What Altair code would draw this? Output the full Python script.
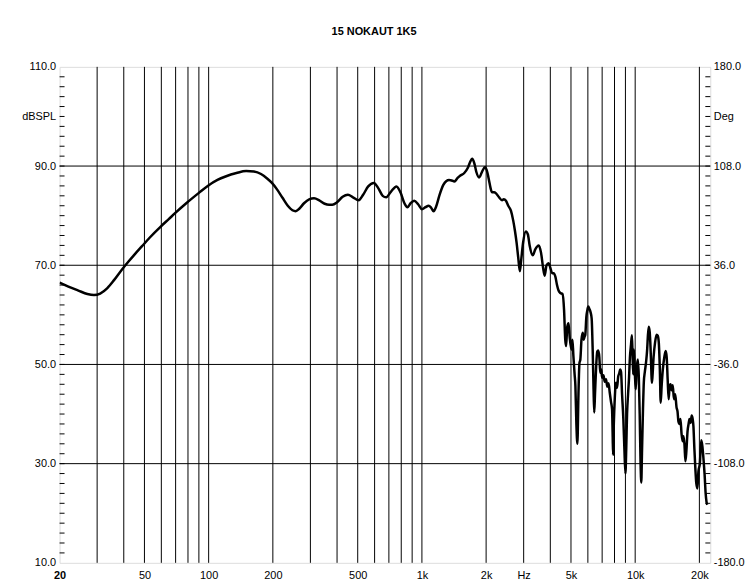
import altair as alt
import pandas as pd

TITLE = "15 NOKAUT 1K5"

freq = [20, 22, 24.5, 27, 29, 31, 33.5, 36, 39, 42, 45, 48.6, 53, 59.6, 65, 70, 79, 90, 99, 110,
        120, 135, 150, 163, 176, 188, 198, 210, 222, 235, 247, 256, 266, 280, 296, 312, 330, 350,
        367, 380, 400, 425, 450, 475, 505, 530, 560, 595, 625, 655, 680, 715, 760, 795, 830, 855,
        885, 920, 960, 1000, 1040, 1075, 1105, 1135, 1165, 1210, 1260, 1303, 1340, 1380, 1420,
        1470, 1515, 1580, 1640, 1690, 1722, 1760, 1800, 1855, 1920, 1978, 2030, 2066, 2100, 2132,
        2180, 2226, 2300, 2374, 2420, 2478, 2540, 2614, 2680, 2729, 2780, 2830, 2878, 2920, 2980,
        3070, 3140, 3200, 3308, 3400, 3528, 3620, 3700, 3764, 3840, 3926, 4000, 4080, 4144, 4230,
        4300, 4372, 4460, 4562, 4640, 4700, 4745, 4800, 4870, 4930, 5024, 5080, 5132, 5200, 5244,
        5300, 5358, 5420, 5480, 5532, 5600, 5680, 5730, 5790, 5836, 5900, 5970, 6026, 6100, 6180,
        6250, 6320, 6380, 6428, 6480, 6560, 6640, 6710, 6790, 6860, 6928, 7000, 7100, 7200, 7300,
        7400, 7500, 7600, 7700, 7790, 7840, 7878, 7940, 8020, 8120, 8224, 8320, 8420, 8500, 8584,
        8680, 8800, 8900, 9000, 9080, 9160, 9260, 9350, 9450, 9560, 9654, 9720, 9790, 9870, 9970,
        10060, 10150, 10296, 10400, 10500, 10600, 10680, 10760, 10880, 10980, 11098, 11250, 11380,
        11480, 11584, 11700, 11800, 11900, 11962, 12050, 12200, 12400, 12600, 12756, 12900, 13050,
        13172, 13300, 13480, 13700, 13900, 14050, 14200, 14352, 14500, 14650, 14820, 15000, 15200,
        15400, 15634, 15800, 15950, 16144, 16300, 16500, 16700, 16850, 17030, 17200, 17380, 17600,
        17800, 17970, 18200, 18400, 18600, 18756, 18950, 19150, 19350, 19576, 19800, 20100, 20400,
        20660, 20900, 21150, 21400, 21600, 21780]

spl = [66.5, 65.7, 64.9, 64.2, 64.0, 64.3, 65.4, 67.0, 69.0, 70.7, 72.2, 73.8, 75.6, 77.8, 79.3,
       80.6, 82.6, 84.6, 86.0, 87.2, 87.9, 88.6, 89.0, 88.9, 88.4, 87.5, 86.6, 85.2, 83.6, 82.0,
       81.1, 80.9, 81.4, 82.5, 83.3, 83.5, 83.1, 82.4, 82.2, 82.2, 82.7, 83.8, 84.2, 83.7, 83.1,
       84.2, 85.9, 86.6, 85.5, 84.0, 83.7, 84.8, 85.9, 84.6, 82.4, 81.7, 82.5, 83.0, 82.3, 81.3,
       81.7, 82.0, 81.6, 80.9, 81.8, 84.2, 86.2, 87.0, 87.2, 87.1, 86.9, 87.6, 88.1, 88.6, 89.6,
       91.0, 91.5, 90.6, 88.8, 87.7, 89.0, 89.8, 88.6, 87.0, 85.5, 84.7, 84.7, 84.5, 83.7, 83.1,
       83.3, 83.0, 82.0, 81.0, 79.0, 77.0, 74.5, 71.5, 68.8, 71.0, 74.5, 76.8, 76.2, 74.0, 72.0,
       73.2, 74.0, 72.5, 69.5, 67.9, 70.0, 70.4, 69.5, 68.4, 68.4, 67.6, 66.0, 64.9, 64.4, 64.2,
       61.0, 55.0, 53.7, 57.5, 58.3, 55.5, 53.0, 55.0, 51.7, 48.0, 45.7, 38.0, 34.0, 44.0, 50.3,
       51.0, 55.0, 56.4, 55.0, 55.6, 56.0, 59.5, 61.0, 61.7, 61.2, 60.5, 59.3, 53.0, 45.0, 40.3,
       44.0, 49.5, 52.6, 52.8, 51.5, 48.3, 49.0, 47.3, 47.8, 46.5, 47.0, 45.5, 46.2, 44.3, 42.5,
       41.0, 36.0, 31.8, 38.0, 43.0, 46.3, 45.3, 47.5, 48.2, 49.0, 48.5, 44.0, 39.0, 33.0, 28.0,
       33.0, 40.0, 44.0, 47.0, 51.5, 54.0, 55.9, 52.0, 48.0, 53.0, 48.0, 45.0, 49.0, 51.0, 47.5,
       40.0, 30.0, 26.2, 32.0, 41.0, 46.5, 48.5, 50.5, 53.0, 56.0, 57.6, 56.5, 53.5, 49.0, 46.3,
       47.5, 51.5, 54.5, 56.0, 55.8, 54.5, 49.0, 42.3, 45.5, 49.0, 51.5, 52.7, 51.5, 47.0, 43.0,
       45.5, 46.0, 44.8, 45.8, 43.0, 44.0, 41.3, 40.5, 38.5, 38.0, 39.0, 36.0, 34.5, 35.5, 33.8,
       30.5, 32.5, 36.5, 38.0, 39.0, 38.2, 39.7, 39.0, 37.5, 33.0, 29.0, 26.0, 25.0, 28.5, 30.0,
       34.7, 33.5, 31.0, 28.0, 24.0, 22.3, 21.7]

grid_freqs = [30, 40, 50, 60, 70, 80, 90, 100, 200, 300, 400, 500, 600, 700, 800, 900,
              1000, 2000, 3000, 4000, 5000, 6000, 7000, 8000, 9000, 10000, 20000]
grid_db = [30, 50, 70, 90]
tick_db = list(range(12, 110, 2))

x_label_values = [20, 50, 100, 200, 500, 1000, 2000, 3000, 5000, 10000, 20000]
x_label_text = ["20", "50", "100", "200", "500", "1k", "2k", "Hz", "5k", "10k", "20k"]
y_label_values = [10, 30, 50, 70, 90, 100, 110]
left_labels = ["10.0", "30.0", "50.0", "70.0", "90.0", "dBSPL", "110.0"]
right_labels = ["-180.0", "-108.0", "-36.0", "36.0", "108.0", "Deg", "180.0"]

X_DOMAIN = [20, 22500]
Y_DOMAIN = [10, 110]
W, H = 656, 500
FONT = "Liberation Sans"


def expr_map(values, labels):
    parts = [f"datum.value == {v} ? '{t}'" for v, t in zip(values, labels)]
    return " : ".join(parts) + " : ''"


curve_df = pd.DataFrame({"freq": freq, "spl": spl})
vgrid_df = pd.DataFrame({"freq": grid_freqs})
hgrid_df = pd.DataFrame({"spl": grid_db})
tick_df = pd.DataFrame({"spl": tick_db})

xscale = alt.Scale(type="log", domain=X_DOMAIN, nice=False)
yscale = alt.Scale(domain=Y_DOMAIN, nice=False, zero=False)

x_axis = alt.Axis(
    values=x_label_values, labelExpr=expr_map(x_label_values, x_label_text),
    grid=False, ticks=False, domain=False, labelPadding=7, labelFlush=False,
    labelOverlap=False, labelFontSize=11, labelFont=FONT, labelColor="black",
    labelFontWeight={"condition": {"test": "datum.value == 20", "value": "bold"}, "value": "normal"},
    title=None,
)
y_axis_left = alt.Axis(
    values=y_label_values, labelExpr=expr_map(y_label_values, left_labels),
    grid=False, ticks=False, domain=False, labelPadding=4, labelFlush=False,
    labelOverlap=False, labelFontSize=11, labelFont=FONT, labelColor="black",
    title=None, orient="left",
)
y_axis_right = alt.Axis(
    values=y_label_values, labelExpr=expr_map(y_label_values, right_labels),
    grid=False, ticks=False, domain=False, labelPadding=3, labelFlush=False,
    labelOverlap=False, labelFontSize=11, labelFont=FONT, labelColor="black",
    title=None, orient="right",
)

X = alt.X("freq:Q", scale=xscale, axis=x_axis)
Y = alt.Y("spl:Q", scale=yscale, axis=y_axis_left)

vgrid = alt.Chart(vgrid_df).mark_rule(color="black", strokeWidth=1).encode(x=X)
hgrid = alt.Chart(hgrid_df).mark_rule(color="black", strokeWidth=1).encode(y=Y)
lticks = alt.Chart(tick_df).mark_rule(color="black", strokeWidth=1).encode(
    y=Y, x=alt.value(0), x2=alt.value(5))
curve = alt.Chart(curve_df).mark_line(
    color="black", strokeWidth=2.5, interpolate="monotone", clip=True
).encode(x=X, y=Y)

main = alt.layer(vgrid, hgrid, lticks, curve)

rticks = alt.Chart(tick_df).mark_rule(color="black", strokeWidth=1).encode(
    y=alt.Y("spl:Q", scale=yscale, axis=y_axis_right),
    x=alt.value(W - 5), x2=alt.value(W))

chart = alt.layer(main, rticks).resolve_scale(y="independent").properties(
    width=W, height=H,
    title=alt.TitleParams(TITLE, fontSize=11, fontWeight="bold", font=FONT,
                          anchor="middle", offset=24, dx=-11, color="black"),
    autosize=alt.AutoSizeParams(type="none"),
    padding={"left": 52, "top": 57, "right": 36, "bottom": 20},
).configure_view(stroke="black", strokeWidth=3).configure(background="white")

chart.save("out.html", embed_options={"renderer": "svg", "actions": False})
